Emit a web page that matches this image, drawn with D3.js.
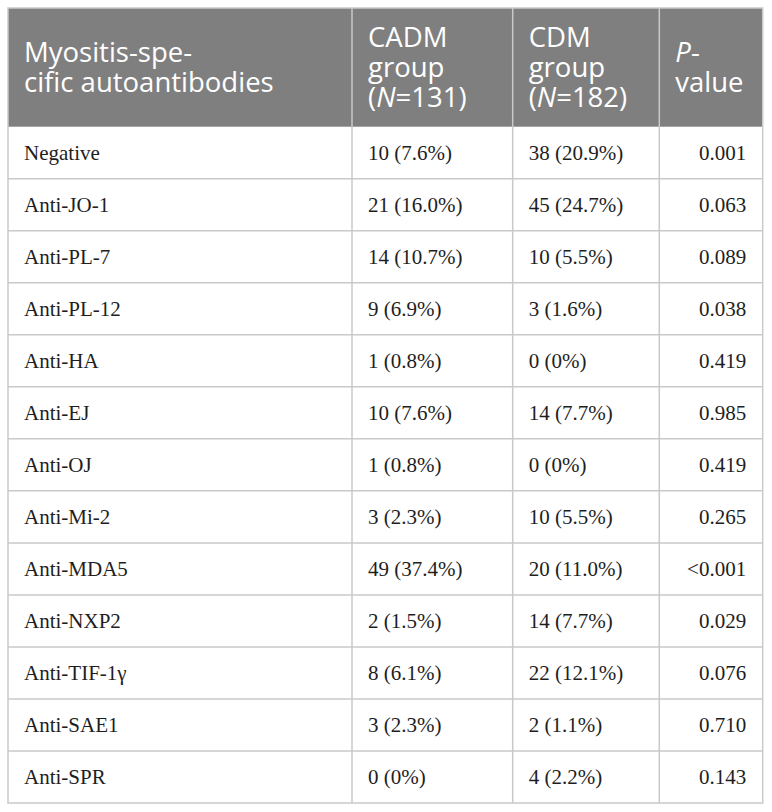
<!DOCTYPE html>
<html>
<head>
<meta charset="utf-8">
<script src="https://cdn.jsdelivr.net/npm/d3@7"></script>
<style>
  body { margin: 0; background: #fff; }
  svg { display: block; }
</style>
</head>
<body>
<svg id="tbl" width="772" height="812"></svg>
<script>
// table content
var headers = [
  [["Myositis-spe-"], ["cific autoantibodies"]],
  [["CADM"], ["group"], ["(", "N", "=131)"]],
  [["CDM"], ["group"], ["(", "N", "=182)"]],
  [["", "P", "-"], ["value"]]
];
var antibodies = ["Negative", "Anti-JO-1", "Anti-PL-7", "Anti-PL-12", "Anti-HA", "Anti-EJ",
  "Anti-OJ", "Anti-Mi-2", "Anti-MDA5", "Anti-NXP2", "Anti-TIF-1\u03b3", "Anti-SAE1", "Anti-SPR"];
var cadm = ["10 (7.6%)", "21 (16.0%)", "14 (10.7%)", "9 (6.9%)", "1 (0.8%)", "10 (7.6%)",
  "1 (0.8%)", "3 (2.3%)", "49 (37.4%)", "2 (1.5%)", "8 (6.1%)", "3 (2.3%)", "0 (0%)"];
var cdm = ["38 (20.9%)", "45 (24.7%)", "10 (5.5%)", "3 (1.6%)", "0 (0%)", "14 (7.7%)",
  "0 (0%)", "10 (5.5%)", "20 (11.0%)", "14 (7.7%)", "22 (12.1%)", "2 (1.1%)", "4 (2.2%)"];
var pvals = ["0.001", "0.063", "0.089", "0.038", "0.419", "0.985",
  "0.419", "0.265", "<0.001", "0.029", "0.076", "0.710", "0.143"];

var svg = d3.select("#tbl");
var x0 = 8, y0 = 8, headH = 118.7, yEnd = 803;
var colEdges = [8, 352, 512.7, 659.3, 762.7];
var border = "#c9c9c9";

var rows = antibodies.map(function(d, i) {
  return [d, cadm[i], cdm[i], pvals[i]];
});

var y = d3.scaleBand()
  .domain(d3.range(rows.length))
  .range([y0 + headH, yEnd]);

var colX = d3.scaleOrdinal().domain([0, 1, 2, 3]).range(colEdges.slice(0, 4));

// header background
svg.append("rect")
  .attr("x", x0).attr("y", y0)
  .attr("width", colEdges[4] - x0).attr("height", headH)
  .attr("fill", "#7f7f7f");

// header text
var headCenter = y0 + headH / 2;
headers.forEach(function(lines, c) {
  var n = lines.length;
  var t = svg.append("g").attr("font-family", "'Open Sans', sans-serif")
    .attr("font-size", 27.5).attr("fill", "#fff");
  lines.forEach(function(parts, i) {
    var txt = t.append("text")
      .attr("x", colX(c) + 16)
      .attr("y", headCenter + (i - (n - 1) / 2) * 30 + 10);
    parts.forEach(function(p, k) {
      if (p === "") return;
      txt.append("tspan")
        .attr("font-style", (parts.length === 3 && k === 1) ? "italic" : "normal")
        .text(p);
    });
  });
});

// body rows
var g = svg.append("g")
  .attr("font-family", "'Liberation Serif', 'Times New Roman', serif")
  .attr("font-size", 21).attr("fill", "#1e1e1e");

var rowG = g.selectAll("g.row").data(rows).join("g")
  .attr("class", "row")
  .attr("transform", function(d, i) { return "translate(0," + y(i) + ")"; });

rowG.selectAll("text").data(function(d) { return d; }).join("text")
  .attr("x", function(d, c) { return c === 3 ? colEdges[4] - 16.5 : colX(c) + 16; })
  .attr("y", y.bandwidth() / 2 + 7)
  .attr("text-anchor", function(d, c) { return c === 3 ? "end" : "start"; })
  .text(function(d) { return d; });

// horizontal lines between rows
svg.selectAll("line.h").data(d3.range(1, rows.length)).join("line")
  .attr("class", "h")
  .attr("x1", x0).attr("x2", colEdges[4])
  .attr("y1", function(i) { return y(i); }).attr("y2", function(i) { return y(i); })
  .attr("stroke", border).attr("stroke-width", 1.5);

// vertical column lines
svg.selectAll("line.v").data(colEdges.slice(1, 4)).join("line")
  .attr("class", "v")
  .attr("x1", function(d) { return d; }).attr("x2", function(d) { return d; })
  .attr("y1", y0).attr("y2", yEnd)
  .attr("stroke", border).attr("stroke-width", 1.5);

// outer border
svg.append("rect")
  .attr("x", x0).attr("y", y0)
  .attr("width", colEdges[4] - x0).attr("height", yEnd - y0)
  .attr("fill", "none").attr("stroke", border).attr("stroke-width", 1.5);
</script>
</body>
</html>
